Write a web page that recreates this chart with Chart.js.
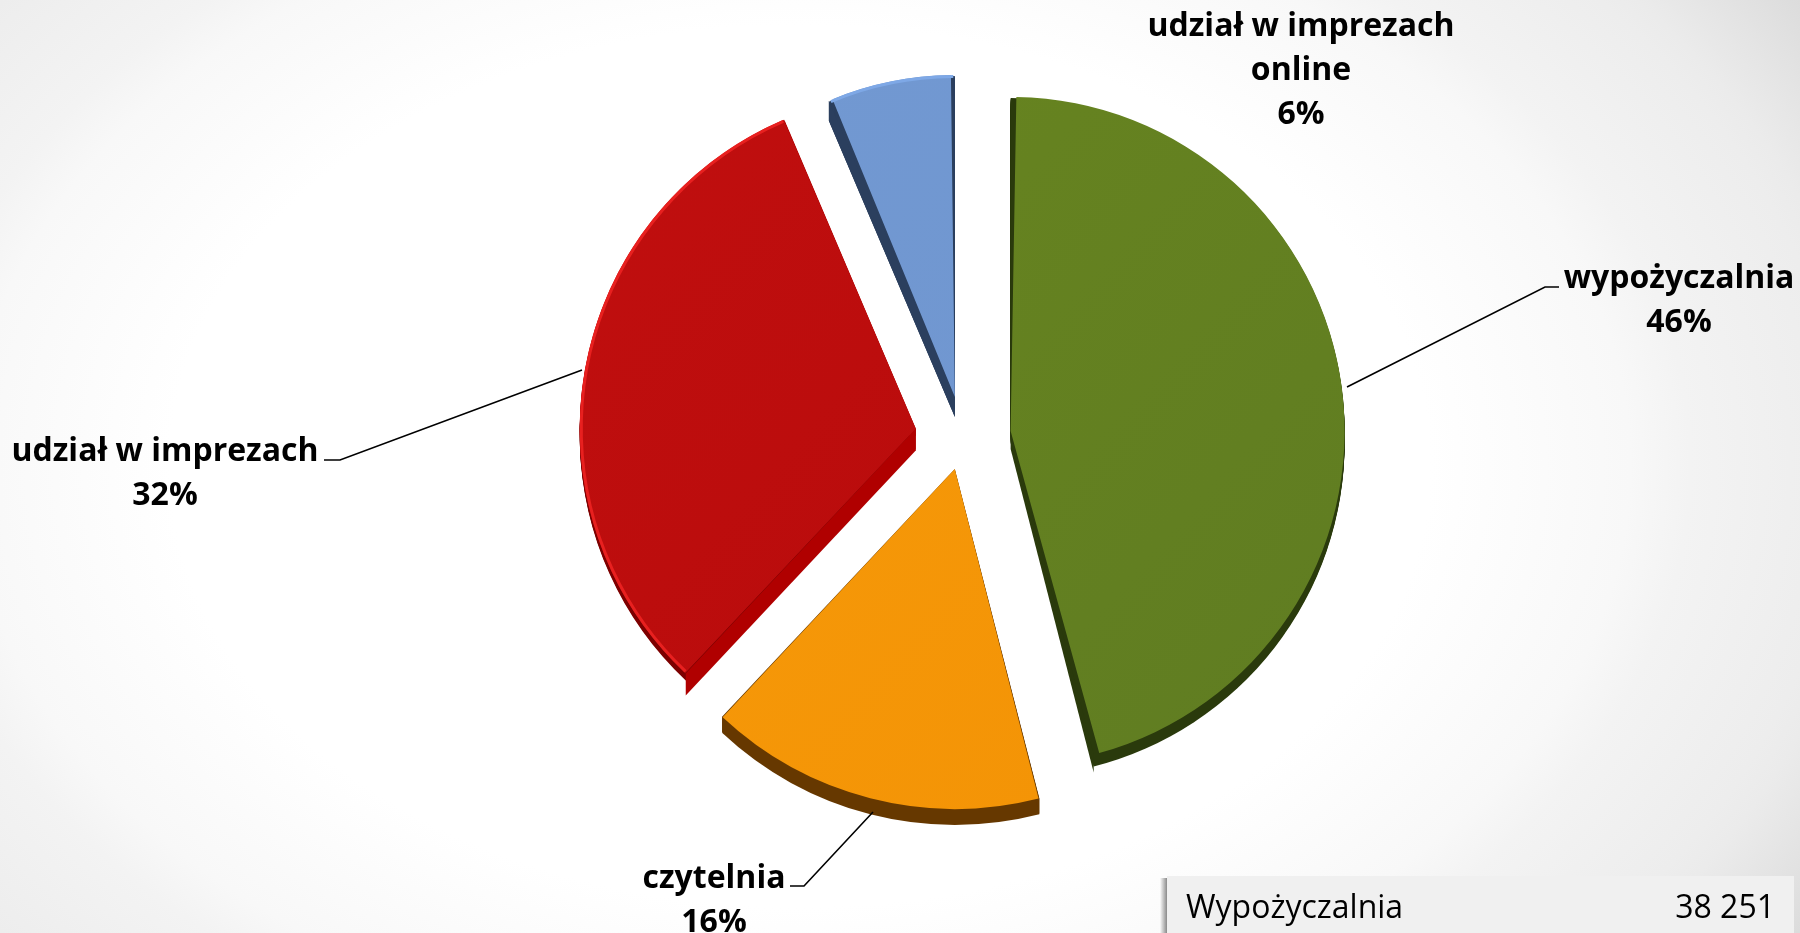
<!DOCTYPE html>
<html><head><meta charset="utf-8">
<script src="https://cdn.jsdelivr.net/npm/chart.js@4"></script>
<style>
html,body{margin:0;padding:0;width:1800px;height:933px;overflow:hidden;background:radial-gradient(1000px 700px at 800px 466px,#fff 63%,#f8f8f8 83%,#f3f3f3 89%,#ededed 104%,#ebebeb 107%,#dcdcdc 120%);}
#w{position:absolute;left:0;top:0;width:1800px;height:933px}
</style></head><body><div id="w"><canvas id="c" width="1800" height="933"></canvas></div>
<script>
const categories=['wypożyczalnia','czytelnia','udział w imprezach','udział w imprezach online'];
const shares=[46,16,31.6,6.4];
const sliceOffsets=[192,132,192,163];
const sliceRadii=[334,340,336,322];
const topLight=['#68851f','#f79b0a','#c10f0f','#7299d2'];
const topDark=['#5f7c22','#f39205','#b50a0a','#6f95cf'];
const arcSides=['#2a3a0c','#663800','#7d0000','#2b3f5e'];
const faceSides=['#2a3a0c','#663800','#b00000','#2b3f5e'];
const rimColors=[null,null,'#e8201f','#7ea8e6'];
const arcDepths=[12,16,7,20];
const faceDepths=[18,16,22,20];
const tableLabel='Wypożyczalnia';
const tableValue='38 251';
const labelLines=[['wypożyczalnia','46%'],['czytelnia','16%'],['udział w imprezach','32%'],['udział w imprezach','online','6%']];
const labelPos=[[1679,279],[714,879],[165,452],[1301,27]];
const leaders=[[[1347,387],[1545,287],[1559,287]],[[873,812],[804,886],[790,886]],[[582,370],[340,460],[324,460]],null];

function grad(ctx,i){const g=ctx.createLinearGradient(576,100,1350,800);g.addColorStop(0,topLight[i]);g.addColorStop(1,topDark[i]);return g;}
function geom(a){
  const h=(a.startAngle+a.endAngle)/2,o=(a.options.offset||0)/4;
  const fix=1-Math.sin(Math.min(Math.PI,a.circumference||0));
  return {x:a.x+Math.cos(h)*o,y:a.y+Math.sin(h)*o,r:a.outerRadius+o*fix};
}
const depthPlugin={id:'depth',
afterDatasetsUpdate(chart){
  chart.getDatasetMeta(0).data.forEach((a,i)=>{
    const o=(a.options.offset||0)/4,fix=1-Math.sin(Math.min(Math.PI,a.circumference||0));
    a.outerRadius=sliceRadii[i]-o*fix;
  });
},
beforeDatasetsDraw(chart){
  const ctx=chart.ctx;
  chart.getDatasetMeta(0).data.forEach((a,i)=>{
    const g=geom(a),D=faceDepths[i];
    ctx.save();ctx.fillStyle=arcSides[i];
    for(let d=1;d<=arcDepths[i];d++){ctx.beginPath();ctx.moveTo(g.x,g.y+d);ctx.arc(g.x,g.y+d,g.r,a.startAngle,a.endAngle);ctx.closePath();ctx.fill();}
    ctx.fillStyle=faceSides[i];
    [a.startAngle,a.endAngle].forEach(t=>{
      const ex=g.x+Math.cos(t)*g.r,ey=g.y+Math.sin(t)*g.r;
      ctx.beginPath();ctx.moveTo(g.x,g.y);ctx.lineTo(ex,ey);ctx.lineTo(ex,ey+D);ctx.lineTo(g.x,g.y+D);ctx.closePath();ctx.fill();
    });
    ctx.restore();
  });
},afterDatasetsDraw(chart){
  const ctx=chart.ctx;
  chart.getDatasetMeta(0).data.forEach((a,i)=>{
    if(!rimColors[i])return;
    const g=geom(a);
    ctx.save();ctx.strokeStyle=rimColors[i];ctx.lineWidth=3;ctx.beginPath();ctx.arc(g.x,g.y,g.r-1.5,a.startAngle+0.005,a.endAngle-0.005);ctx.stroke();ctx.restore();
  });
}};
const textPlugin={id:'texts',afterDraw(chart){
  const ctx=chart.ctx;ctx.save();
  leaders.forEach(l=>{if(!l)return;ctx.strokeStyle='#000';ctx.lineWidth=1.6;ctx.beginPath();l.forEach((p,k)=>k?ctx.lineTo(p[0],p[1]):ctx.moveTo(p[0],p[1]));ctx.stroke();});
  ctx.fillStyle='#000';ctx.font='bold 32px "Open Sans"';ctx.textAlign='center';ctx.textBaseline='middle';
  labelLines.forEach((ls,i)=>ls.forEach((t,k)=>ctx.fillText(t,labelPos[i][0],labelPos[i][1]+k*44)));
  const s=ctx.createLinearGradient(1160,0,1167,0);s.addColorStop(0,'rgba(0,0,0,0)');s.addColorStop(1,'rgba(0,0,0,.45)');
  ctx.fillStyle=s;ctx.fillRect(1160,878,7,55);
  ctx.fillStyle='#f0f0f0';ctx.fillRect(1167,876,627,57);
  ctx.fillStyle='#000';ctx.font='32px "Open Sans"';ctx.textBaseline='alphabetic';
  ctx.textAlign='left';ctx.fillText(tableLabel,1186,918);
  ctx.textAlign='right';ctx.fillText(tableValue,1775,918);
  ctx.restore();
}};
Chart.defaults.font.family='"Open Sans"';
const cv=document.getElementById('c');
new Chart(cv,{type:'pie',data:{labels:categories,datasets:[{data:shares,
  backgroundColor:c=>grad(c.chart.ctx,c.dataIndex),
  borderWidth:0,offset:sliceOffsets,radius:335}]},
  options:{responsive:false,animation:false,layout:{padding:{left:126,right:0,top:0,bottom:59}},
  plugins:{legend:{display:false},tooltip:{enabled:false}}},plugins:[depthPlugin,textPlugin]});
</script></body></html>
